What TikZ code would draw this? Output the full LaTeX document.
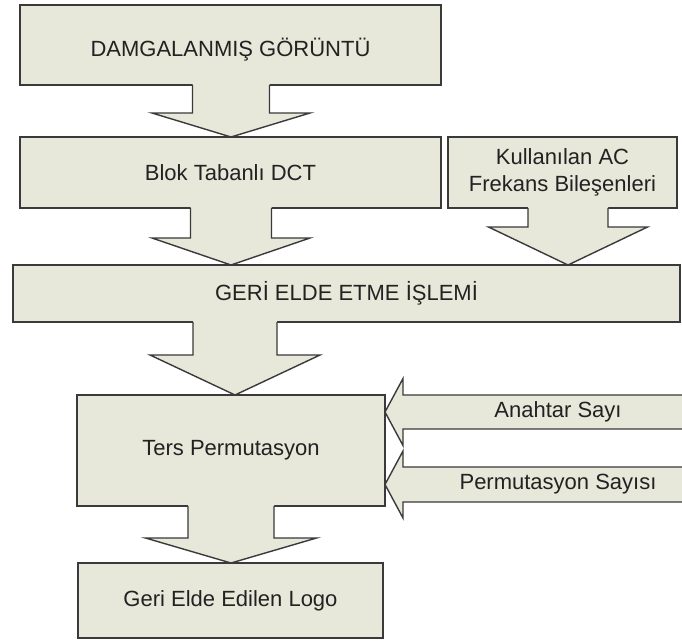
\documentclass[tikz,border=0pt]{standalone}
\usepackage{fontspec}
\setmainfont{Liberation Sans}
\usetikzlibrary{calc}
\definecolor{boxfill}{HTML}{E7E7DA}
\definecolor{boxline}{HTML}{3A3A3A}
\definecolor{txt}{HTML}{222222}
\tikzset{
  box/.style={draw=boxline, fill=boxfill, line width=1.4pt, inner sep=0pt, outer sep=0pt,
              font=\fontsize{22}{27}\selectfont, text=txt, align=center},
  boxtext/.style={font=\fontsize{22}{27}\selectfont, text=txt, align=center, inner sep=0pt},
  arrowline/.style={draw=boxline, line width=1.4pt, line join=miter},
  arrowfill/.style={fill=boxfill},
}
% from node, to node, centre x, shaft half width, wing half width, wing depth
\newcommand{\BlockDown}[6]{%
  \fill[arrowfill] let \p1=(#1.south), \p2=(#2.north) in
    (#3pt-#4pt,\y1+2pt) -- (#3pt-#4pt,\y1-#6pt) -- (#3pt-#5pt,\y1-#6pt) -- (#3pt,\y2)
    -- (#3pt+#5pt,\y1-#6pt) -- (#3pt+#4pt,\y1-#6pt) -- (#3pt+#4pt,\y1+2pt) -- cycle;
  \draw[arrowline] let \p1=(#1.south), \p2=(#2.north) in
    (#3pt-#4pt,\y1) -- (#3pt-#4pt,\y1-#6pt) -- (#3pt-#5pt,\y1-#6pt) -- (#3pt,\y2)
    -- (#3pt+#5pt,\y1-#6pt) -- (#3pt+#4pt,\y1-#6pt) -- (#3pt+#4pt,\y1);
}
% source coordinate, target node, body half height, head half height, head length
\newcommand{\BlockLeft}[5]{%
  \filldraw[arrowline, arrowfill] let \p1=(#2.east |- #1) in
    (710pt,\y1+#3pt) -- (\x1+#5pt,\y1+#3pt) -- (\x1+#5pt,\y1+#4pt) -- (\x1,\y1)
    -- (\x1+#5pt,\y1-#4pt) -- (\x1+#5pt,\y1-#3pt) -- (710pt,\y1-#3pt) -- cycle;
}
\begin{document}
\begin{tikzpicture}[x=1pt,y=1pt]
\path[use as bounding box] (0,0) rectangle (682,-640);
\fill[white] (0,0) rectangle (682,-640);
\clip (0,0) rectangle (682,-640);

% boxes
\node[box, minimum width=421pt, minimum height=80pt] (b1) at (230.5,-45) {};
\node[boxtext] (t1) at ($(b1.center)+(0,-5)$) {DAMGALANMIŞ GÖRÜNTÜ};
\node[box, minimum width=421pt, minimum height=71pt] (b2) at (230.5,-172.5) {Blok Tabanlı DCT};
\node[box, minimum width=229pt, minimum height=71pt] (b3) at (562.5,-172.5) {Kullanılan AC\\Frekans Bileşenleri};
\node[box, minimum width=667pt, minimum height=57pt] (b4) at (346.5,-293.5) {GERİ ELDE ETME İŞLEMİ};
\node[box, minimum width=308pt, minimum height=111pt] (b5) at (231,-450.5) {Ters Permutasyon};
\node[box, minimum width=305pt, minimum height=75pt] (b6) at (230.5,-600.5) {Geri Elde Edilen Logo};

% down block arrows
\BlockDown{b1}{b2}{231}{38.5}{79}{28}
\BlockDown{b2}{b4}{231}{40.5}{79}{30}
\BlockDown{b3}{b4}{568}{40}{79.5}{19}
\BlockDown{b4}{b5}{235}{42}{85}{33}
\BlockDown{b5}{b6}{231}{43}{85.5}{32}

% left block arrows
\coordinate (k1) at (558,-412);
\coordinate (k2) at (558,-484.5);
\BlockLeft{k1}{b5}{17}{33.5}{18}
\BlockLeft{k2}{b5}{17.5}{33.5}{18}
\node[boxtext] (l1) at (k1) {Anahtar Sayı};
\node[boxtext] (l2) at (k2) {Permutasyon Sayısı};
\end{tikzpicture}
\end{document}
